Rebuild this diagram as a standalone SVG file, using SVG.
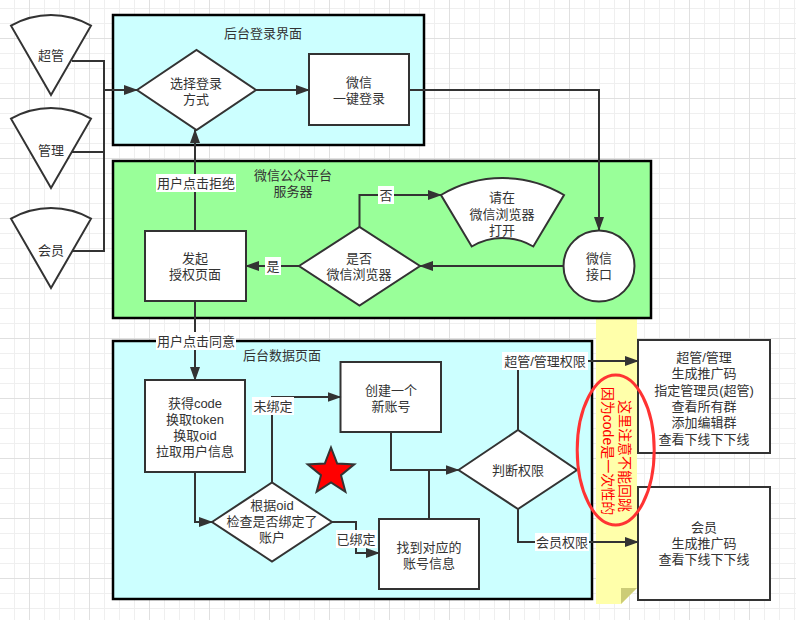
<svg xmlns="http://www.w3.org/2000/svg" width="796" height="620" viewBox="0 0 796 620">
<defs>
<pattern id="grid" x="29" y="38" width="60" height="60" patternUnits="userSpaceOnUse">
<path d="M15.5,0 V60 M30.5,0 V60 M45.5,0 V60 M0,15.5 H60 M0,30.5 H60 M0,45.5 H60" stroke="#efefef" stroke-width="1" fill="none"/>
<path d="M0.5,0 V60 M0,0.5 H60" stroke="#e0e0e0" stroke-width="1" fill="none"/>
</pattern>
<marker id="arr" markerUnits="userSpaceOnUse" markerWidth="14" markerHeight="10" refX="13" refY="5" orient="auto">
<path d="M0,0 L14,5 L0,10 z" fill="#333"/>
</marker>
</defs>
<style>
text { font-family: "Liberation Sans", "Noto Sans CJK SC", sans-serif; font-size: 13px; fill: #333; text-anchor: middle; dominant-baseline: central; }
.container { stroke: #000; stroke-width: 2.5; }
.shape { fill: #fff; stroke: #333; stroke-width: 2; }
.edge { fill: none; stroke: #333; stroke-width: 2; marker-end: url(#arr); }
.line { fill: none; stroke: #333; stroke-width: 2; }
.lblbg { fill: #fff; }
.red { fill: #ff0000; font-size: 14px; }
</style>
<rect x="0" y="0" width="796" height="620" fill="#fff"/>
<rect x="0" y="0" width="796" height="620" fill="url(#grid)"/>

<g id="note">
<polygon points="596,318 637,318 637,588 621,604 596,604" fill="#ffffaa"/>
<polygon points="621,604 621,588 637,588" fill="#cccc77"/>
</g>

<g id="login-page">
<rect class="container" x="113" y="15" width="311" height="130" fill="#ccffff"/>
<text x="263" y="33">后台登录界面</text>
</g>
<g id="wechat-server">
<rect class="container" x="113" y="161" width="538" height="157" fill="#99ff99"/>
<text><tspan x="293" y="175">微信公众平台</tspan><tspan x="293" dy="16">服务器</tspan></text>
</g>
<g id="data-page">
<rect class="container" x="113" y="341" width="479" height="258" fill="#ccffff"/>
<text x="282" y="355">后台数据页面</text>
</g>

<g id="superadmin">
<path class="shape" d="M51,95 L11,25.7 A80,80 0 0 1 91,25.7 Z"/>
<text x="51" y="55">超管</text>
</g>
<g id="admin">
<path class="shape" d="M51,188 L11,118.7 A80,80 0 0 1 91,118.7 Z"/>
<text x="51" y="150">管理</text>
</g>
<g id="member">
<path class="shape" d="M51,288 L11,218.7 A80,80 0 0 1 91,218.7 Z"/>
<text x="51" y="250">会员</text>
</g>

<g id="choose-login">
<polygon class="shape" points="137,90 196.5,50 256,90 196.5,130"/>
<text><tspan x="196" y="83">选择登录</tspan><tspan x="196" dy="16">方式</tspan></text>
</g>
<g id="wechat-login">
<rect class="shape" x="309" y="54" width="100" height="71"/>
<text><tspan x="359" y="82">微信</tspan><tspan x="359" dy="16">一键登录</tspan></text>
</g>
<g id="wechat-api">
<circle class="shape" cx="599" cy="266" r="35.5"/>
<text><tspan x="599" y="258">微信</tspan><tspan x="599" dy="16">接口</tspan></text>
</g>
<g id="is-wechat">
<polygon class="shape" points="299,266 359.5,227 420,266 359.5,305.5"/>
<text><tspan x="359" y="258">是否</tspan><tspan x="359" dy="16">微信浏览器</tspan></text>
</g>
<g id="open-in-wechat">
<path class="shape" d="M441,195 A120,120 0 0 1 564,195 L533.3,246.5 A60,60 0 0 0 471.7,246.5 Z"/>
<text><tspan x="502" y="197">请在</tspan><tspan x="502" dy="16.5">微信浏览器</tspan><tspan x="502" dy="16.5">打开</tspan></text>
</g>
<g id="auth-page">
<rect class="shape" x="145" y="231" width="101" height="70"/>
<text><tspan x="195" y="258">发起</tspan><tspan x="195" dy="16">授权页面</tspan></text>
</g>
<g id="get-code">
<rect class="shape" x="145" y="380" width="100" height="92"/>
<text><tspan x="195" y="403">获得code</tspan><tspan x="195" dy="16">换取token</tspan><tspan x="195" dy="16">换取oid</tspan><tspan x="195" dy="16">拉取用户信息</tspan></text>
</g>
<g id="check-bound">
<polygon class="shape" points="212,522 272,482.5 332,522 272,561.5"/>
<text><tspan x="272" y="505">根据oid</tspan><tspan x="272" dy="16">检查是否绑定了</tspan><tspan x="272" dy="16">账户</tspan></text>
</g>
<g id="create-account">
<rect class="shape" x="340.5" y="362" width="100.5" height="70"/>
<text><tspan x="391" y="390">创建一个</tspan><tspan x="391" dy="16">新账号</tspan></text>
</g>
<g id="find-account">
<rect class="shape" x="379" y="519" width="100" height="70"/>
<text><tspan x="429" y="547">找到对应的</tspan><tspan x="429" dy="15.5">账号信息</tspan></text>
</g>
<g id="check-role">
<polygon class="shape" points="458.5,470 518,430 577,470 518,509"/>
<text x="518" y="470">判断权限</text>
</g>
<g id="admin-functions">
<rect class="shape" x="638" y="340" width="132" height="113"/>
<text><tspan x="704" y="357">超管/管理</tspan><tspan x="704" dy="16.3">生成推广码</tspan><tspan x="704" dy="16.3">指定管理员(超管)</tspan><tspan x="704" dy="16.3">查看所有群</tspan><tspan x="704" dy="16.3">添加编辑群</tspan><tspan x="704" dy="16.3">查看下线下下线</tspan></text>
</g>
<g id="member-functions">
<rect class="shape" x="638" y="487" width="132" height="113"/>
<text><tspan x="704" y="527">会员</tspan><tspan x="704" dy="16">生成推广码</tspan><tspan x="704" dy="16">查看下线下下线</tspan></text>
</g>

<g id="star">
<polygon points="331,447.5 337.2,463.5 354.3,464.4 341,475.2 345.4,491.8 331,482.5 316.6,491.8 321,475.2 307.7,464.4 324.8,463.5" fill="#ff0000" stroke="#333" stroke-width="2"/>
</g>

<g id="connectors">
<path class="line" d="M72,61 H104 V251 H72"/>
<path class="line" d="M72,152 H104"/>
<path class="edge" d="M104,90 H137"/>
<path class="edge" d="M256,90 H309"/>
<path class="edge" d="M409,90 H599 V230"/>
<path class="edge" d="M563,266 H420"/>
<path class="edge" d="M299,266 H246"/>
<path class="edge" d="M359.5,227 V195 H441"/>
<path class="edge" d="M195,231 V130"/>
<path class="edge" d="M195,301 V380"/>
<path class="edge" d="M195,472 V522 H212"/>
<path class="edge" d="M272,482.5 V397 H340.5"/>
<path class="edge" d="M332,522 H356 V553 H379"/>
<path class="edge" d="M391,432 V470 H458.5"/>
<path class="line" d="M429,519 V470"/>
<path class="edge" d="M518,430 V361 H638"/>
<path class="edge" d="M518,509 V542 H638"/>

<rect class="lblbg" x="156" y="174" width="80" height="18"/>
<text x="196" y="183">用户点击拒绝</text>
<rect class="lblbg" x="156" y="332" width="80" height="18"/>
<text x="196" y="341">用户点击同意</text>
<rect class="lblbg" x="265" y="257" width="16" height="18"/>
<text x="273" y="266">是</text>
<rect class="lblbg" x="378" y="186" width="16" height="18"/>
<text x="386" y="195">否</text>
<rect class="lblbg" x="252" y="397" width="42" height="18"/>
<text x="273" y="406">未绑定</text>
<rect class="lblbg" x="336" y="530" width="41" height="18"/>
<text x="356" y="539">已绑定</text>
<rect class="lblbg" x="502" y="352" width="86" height="18"/>
<text x="545" y="361">超管/管理权限</text>
<rect class="lblbg" x="535" y="533" width="54" height="18"/>
<text x="562" y="542">会员权限</text>
</g>

<g id="warning">
<ellipse cx="615.7" cy="450" rx="38.5" ry="75" fill="none" stroke="#f33" stroke-width="3"/>
<text class="red" transform="translate(616.5,454) rotate(90)"><tspan x="2" y="-8.5">这里注意不能回跳</tspan><tspan x="-3" dy="17">因为code是一次性的</tspan></text>
</g>
</svg>
